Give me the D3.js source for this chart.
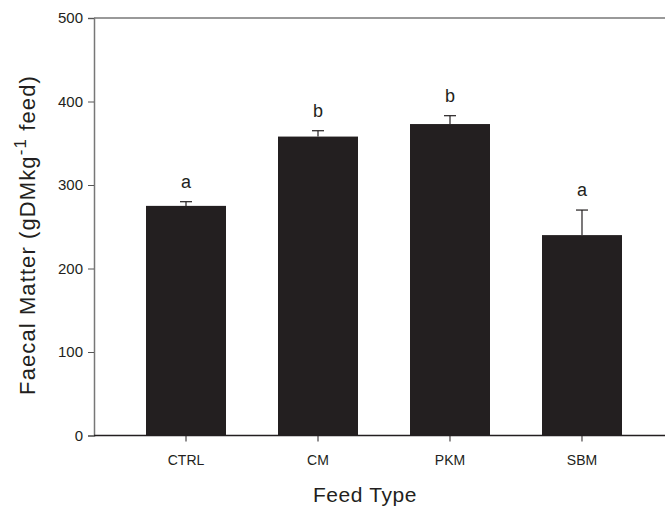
<!DOCTYPE html>
<html>
<head>
<meta charset="utf-8">
<script src="https://cdn.jsdelivr.net/npm/d3@7"></script>
<style>
  body { margin: 0; background: #fff; }
  svg { display: block; font-family: "Liberation Sans", Arial, sans-serif; }
</style>
</head>
<body>
<svg id="chart"></svg>
<script>
// data
const feedTypes = ["CTRL", "CM", "PKM", "SBM"];
const faecalMatter = [275, 358, 373, 240];
const errorUp = [5, 7, 10, 30];
const groupLetters = ["a", "b", "b", "a"];
const yTicks = [0, 100, 200, 300, 400, 500];

const width = 665;
const height = 509;

const svg = d3.select("#chart")
    .attr("width", width)
    .attr("height", height);

const x = d3.scaleBand()
    .domain(feedTypes)
    .range([94, 674])
    .paddingInner(0.394)
    .paddingOuter(0.394);

const y = d3.scaleLinear()
    .domain([0, 500])
    .range([435.5, 18]);

// bars
svg.selectAll(".bar")
    .data(feedTypes)
    .join("rect")
    .attr("class", "bar")
    .attr("x", d => x(d))
    .attr("width", x.bandwidth())
    .attr("y", (d, i) => y(faecalMatter[i]))
    .attr("height", (d, i) => y(0) - y(faecalMatter[i]))
    .attr("fill", "#231f20");

// error bars (upper only)
const err = svg.append("g")
    .attr("stroke", "#231f20")
    .attr("stroke-width", 1.2);

feedTypes.forEach((d, i) => {
    const cx = x(d) + x.bandwidth() / 2;
    err.append("line")
        .attr("x1", cx).attr("x2", cx)
        .attr("y1", y(faecalMatter[i]))
        .attr("y2", y(faecalMatter[i] + errorUp[i]));
    err.append("line")
        .attr("x1", cx - 6).attr("x2", cx + 6)
        .attr("y1", y(faecalMatter[i] + errorUp[i]))
        .attr("y2", y(faecalMatter[i] + errorUp[i]));
});

// significance letters
svg.selectAll(".letter")
    .data(feedTypes)
    .join("text")
    .attr("class", "letter")
    .attr("x", d => x(d) + x.bandwidth() / 2)
    .attr("y", (d, i) => y(faecalMatter[i] + errorUp[i]) - 14)
    .attr("text-anchor", "middle")
    .style("font-size", "18px")
    .style("fill", "#231f20")
    .text((d, i) => groupLetters[i]);

// top frame line
svg.append("line")
    .attr("x1", 94).attr("x2", width)
    .attr("y1", y(500)).attr("y2", y(500))
    .attr("stroke", "#777")
    .attr("stroke-width", 1.5);

// y axis
const yAxis = svg.append("g")
    .attr("transform", "translate(94,0)")
    .call(d3.axisLeft(y).tickValues(yTicks).tickSize(6).tickPadding(5));
yAxis.select(".domain").attr("stroke", "#777").attr("stroke-width", 1.5);
yAxis.selectAll(".tick line").attr("stroke", "#555");
yAxis.selectAll(".tick text")
    .style("font-size", "15px")
    .style("font-family", "Liberation Sans, Arial, sans-serif")
    .style("fill", "#231f20");

// x axis
const xAxis = svg.append("g")
    .attr("transform", `translate(0,${y(0)})`)
    .call(d3.axisBottom(x).tickSizeOuter(0).tickSize(6).tickPadding(14));
xAxis.select(".domain").attr("stroke", "#231f20").attr("stroke-width", 1.5)
    .attr("d", `M94,0H${width}`);
xAxis.selectAll(".tick line").attr("stroke", "#231f20");
xAxis.selectAll(".tick text")
    .style("font-size", "14px")
    .style("font-family", "Liberation Sans, Arial, sans-serif")
    .style("fill", "#231f20");

// axis titles
svg.append("text")
    .attr("x", 365)
    .attr("y", 502)
    .attr("text-anchor", "middle")
    .style("font-size", "21px")
    .style("letter-spacing", "0.6px")
    .style("fill", "#231f20")
    .text("Feed Type");

const yTitle = svg.append("text")
    .attr("transform", "translate(35,235) rotate(-90)")
    .attr("text-anchor", "middle")
    .style("font-size", "22px")
    .style("letter-spacing", "1.1px")
    .style("fill", "#231f20");
yTitle.append("tspan").text("Faecal Matter (gDMkg");
yTitle.append("tspan").attr("dy", -9).style("font-size", "17px").text("-1");
yTitle.append("tspan").attr("dy", 9).text(" feed)");
</script>
</body>
</html>
